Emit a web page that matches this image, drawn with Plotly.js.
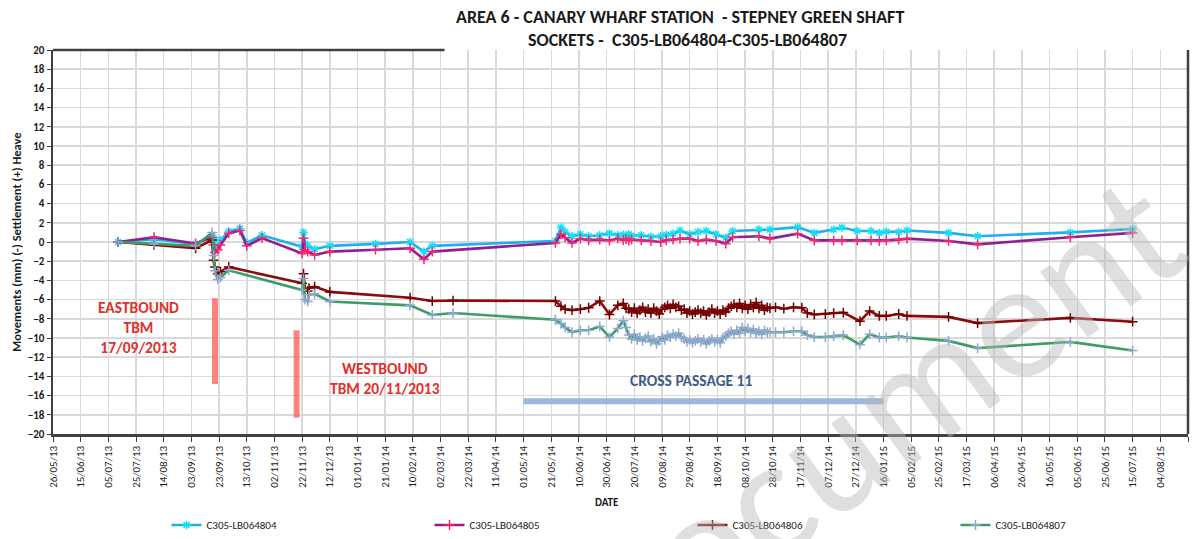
<!DOCTYPE html>
<html>
<head>
<meta charset="utf-8">
<script src="https://cdn.plot.ly/plotly-3.0.1.min.js"></script>
<style>
  body { margin: 0; background: #fff; }
  #chart { width: 1194px; height: 539px; }
</style>
</head>
<body>
<div id="chart"></div>
<script>
// readings for the two upper sockets (804 / 805)
var datesUpper = [
  "2013-07-12", "2013-08-07", "2013-09-06", "2013-09-18", "2013-09-19", "2013-09-20",
  "2013-09-22", "2013-09-24", "2013-09-30", "2013-10-08", "2013-10-13", "2013-10-24",
  "2013-11-22", "2013-11-23", "2013-11-24", "2013-11-26", "2013-12-01", "2013-12-12",
  "2014-01-14", "2014-02-08", "2014-02-18", "2014-02-24", "2014-05-24", "2014-05-28",
  "2014-05-31", "2014-06-05", "2014-06-11", "2014-06-17", "2014-06-25", "2014-07-02",
  "2014-07-08", "2014-07-12", "2014-07-14", "2014-07-16", "2014-07-18", "2014-07-25",
  "2014-08-01", "2014-08-08", "2014-08-12", "2014-08-17", "2014-08-22", "2014-08-29",
  "2014-09-04", "2014-09-10", "2014-09-17", "2014-09-24", "2014-09-29", "2014-10-18",
  "2014-10-26", "2014-11-15", "2014-11-27", "2014-12-11", "2014-12-17", "2014-12-28",
  "2015-01-07", "2015-01-13", "2015-01-18", "2015-01-27", "2015-02-02", "2015-03-04",
  "2015-03-25", "2015-05-31", "2015-07-15"
];
var lb804 = [
  0, 0.3, -0.2, 0.7, 0.1, -0.6,
  -0.4, 0.2, 1.1, 1.4, -0.1, 0.7,
  -0.5, 1.0, -0.2, -0.4, -0.75, -0.4,
  -0.2, 0.0, -1.0, -0.4, 0.1, 1.5,
  1.05, 0.6, 0.8, 0.6, 0.7, 0.9,
  0.7, 0.75, 0.6, 0.8, 0.65, 0.7,
  0.55, 0.6, 0.75, 0.87, 1.2, 0.8,
  1.05, 1.15, 0.8, 0.45, 1.15, 1.3,
  1.3, 1.55, 0.95, 1.3, 1.5, 1.15,
  1.15, 0.95, 1.1, 1.05, 1.2, 0.95,
  0.6, 1.0, 1.35
];
var lb805 = [
  0, 0.5, -0.15, 0.5, -0.3, -1.1,
  -0.8, -0.3, 0.9, 1.2, -0.4, 0.4,
  -1.2, 0.4, -0.8, -1.0, -1.35, -1.0,
  -0.8, -0.65, -1.8, -1.0, -0.1, 0.8,
  0.45, -0.1, 0.35, 0.2, 0.25, 0.15,
  0.35, 0.2, 0.3, 0.15, 0.25, 0.2,
  0.1, 0.0, 0.2, 0.25, 0.35, 0.35,
  0.1, 0.25, 0.1, -0.17, 0.5, 0.6,
  0.35, 0.87, 0.17, 0.17, 0.17, 0.17,
  0.17, 0.1, 0.17, 0.25, 0.35, 0.1,
  -0.25, 0.5, 0.95
];

// readings for the two lower sockets (806 / 807)
var datesLower = [
  "2013-07-12", "2013-08-07", "2013-09-06", "2013-09-18", "2013-09-19", "2013-09-20",
  "2013-09-22", "2013-09-24", "2013-09-30", "2013-11-22", "2013-11-23", "2013-11-24",
  "2013-11-26", "2013-11-27", "2013-12-01", "2013-12-12", "2014-02-08", "2014-02-24",
  "2014-03-11", "2014-05-24", "2014-05-28", "2014-05-31", "2014-06-05", "2014-06-11",
  "2014-06-17", "2014-06-25", "2014-07-02", "2014-07-08", "2014-07-12", "2014-07-14",
  "2014-07-16", "2014-07-18", "2014-07-20", "2014-07-22", "2014-07-24", "2014-07-26",
  "2014-07-28", "2014-07-30", "2014-08-01", "2014-08-03", "2014-08-05", "2014-08-07",
  "2014-08-09", "2014-08-11", "2014-08-13", "2014-08-15", "2014-08-17", "2014-08-19",
  "2014-08-21", "2014-08-23", "2014-08-25", "2014-08-27", "2014-08-29", "2014-08-31",
  "2014-09-02", "2014-09-04", "2014-09-06", "2014-09-08", "2014-09-10", "2014-09-12",
  "2014-09-14", "2014-09-16", "2014-09-18", "2014-09-20", "2014-09-22", "2014-09-24",
  "2014-09-26", "2014-09-28", "2014-09-30", "2014-10-02", "2014-10-04", "2014-10-06",
  "2014-10-08", "2014-10-10", "2014-10-12", "2014-10-14", "2014-10-16", "2014-10-18",
  "2014-10-20", "2014-10-22", "2014-10-24", "2014-10-26", "2014-10-30", "2014-11-05",
  "2014-11-12", "2014-11-18", "2014-11-22", "2014-11-27", "2014-12-05", "2014-12-11",
  "2014-12-18", "2014-12-30", "2015-01-06", "2015-01-13", "2015-01-18", "2015-01-27",
  "2015-02-02", "2015-03-04", "2015-03-25", "2015-05-31", "2015-07-15"
];
var lb806 = [
  0, -0.3, -0.65, 0.2, -1.9, -2.6,
  -3.3, -3.1, -2.6, -4.3, -3.3, -5.0,
  -5.1, -4.8, -4.65, -5.2, -5.8, -6.15,
  -6.1, -6.15, -6.7, -7.0, -7.1, -7.0,
  -6.85, -6.15, -7.55, -6.6, -6.4, -6.9,
  -7.0, -7.3, -6.9, -7.4, -7.1, -6.8,
  -7.3, -7.0, -7.4, -6.9, -7.2, -7.5,
  -7.0, -6.8, -6.6, -6.9, -6.5, -6.8,
  -6.7, -7.1, -7.0, -7.4, -7.2, -7.5,
  -7.3, -7.1, -7.4, -7.2, -7.6, -7.3,
  -7.0, -7.4, -7.2, -7.5, -7.1, -7.3,
  -6.9, -6.7, -6.5, -6.8, -6.4, -6.9,
  -6.6, -7.0, -6.5, -6.8, -6.3, -6.9,
  -6.6, -7.1, -6.8, -6.9, -6.8, -6.95,
  -6.8, -6.85, -7.4, -7.55, -7.5, -7.4,
  -7.35, -8.25, -7.2, -7.7, -7.7, -7.5,
  -7.7, -7.8, -8.45, -7.9, -8.3
];
var lb807 = [
  0, -0.2, -0.4, 1.0, -1.4, -3.0,
  -3.9, -3.7, -2.95, -5.0, -3.8, -6.0,
  -6.2, -5.5, -5.4, -6.2, -6.6, -7.6,
  -7.4, -8.1, -8.5, -8.9, -9.4, -9.2,
  -9.2, -8.8, -9.9, -9.0, -8.2, -8.9,
  -9.7, -10.1, -9.6, -10.2, -9.9, -10.3,
  -10.0, -9.8, -10.4, -10.1, -10.6, -10.3,
  -9.9, -10.2, -9.7, -9.9, -9.6, -9.8,
  -9.5, -9.9, -10.1, -10.4, -10.2, -10.5,
  -10.3, -10.1, -10.4, -10.2, -10.6, -10.3,
  -10.1, -10.4, -10.2, -10.5, -10.0, -9.8,
  -9.5, -9.3, -9.6, -9.2, -9.5, -8.9,
  -9.3, -9.0, -9.4, -9.1, -9.5, -9.3,
  -9.6, -9.2, -9.4, -9.4, -9.4, -9.4,
  -9.3, -9.3, -9.7, -9.9, -9.9, -9.8,
  -9.7, -10.7, -9.6, -9.95, -9.95, -9.8,
  -9.95, -10.3, -11.05, -10.4, -11.3
];

var seriesNames = ["C305-LB064804", "C305-LB064805", "C305-LB064806", "C305-LB064807"];

// TBM drives and cross passage works
var eastDate = "2013-09-20", eastFrom = -5.85, eastTo = -14.8;
var westDate = "2013-11-18", westFrom = -9.2, westTo = -18.3;
var passageStart = "2014-05-01", passageEnd = "2015-01-16", passageLevel = -16.6;

var font = "Carlito, Lato, 'Open Sans', sans-serif";

function makeTrace(name, x, y, lineColor, symbol, markerColor) {
  return {
    type: "scatter",
    mode: "lines+markers",
    name: name,
    x: x,
    y: y,
    line: { color: lineColor, width: 2.6 },
    marker: {
      symbol: symbol,
      size: 7,
      color: markerColor,
      line: { color: markerColor, width: 1.5 }
    }
  };
}

var traces = [
  makeTrace(seriesNames[0], datesUpper, lb804, "#1fb0ec", "asterisk-open", "#10e0f8"),
  makeTrace(seriesNames[1], datesUpper, lb805, "#8e1f8e", "cross-thin-open", "#ff2470"),
  makeTrace(seriesNames[2], datesLower, lb806, "#8a0c0c", "cross-thin-open", "#740000"),
  makeTrace(seriesNames[3], datesLower, lb807, "#3c9e66", "cross-thin-open", "#8ea8d2")
];

var layout = {
  width: 1194,
  height: 539,
  margin: { l: 53, r: 6, t: 50, b: 105, autoexpand: false },
  paper_bgcolor: "#fff",
  plot_bgcolor: "#fff",
  font: { family: font, color: "#1a1a1a" },
  showlegend: true,
  legend: {
    orientation: "h",
    x: 0.1,
    xanchor: "left",
    y: -0.237,
    yanchor: "middle",
    entrywidth: 218,
    entrywidthmode: "pixels",
    font: { size: 11, family: font, color: "#1a1a1a" }
  },
  xaxis: {
    type: "date",
    automargin: false,
    range: ["2013-05-26", "2015-08-24"],
    tick0: "2013-05-26",
    dtick: 20 * 86400000,
    tickformat: "%d/%m/%y",
    tickangle: -90,
    ticks: "outside",
    ticklen: 5,
    tickcolor: "#404040",
    tickfont: { size: 11, family: font, color: "#1a1a1a" },
    showgrid: true,
    gridcolor: "#d9d9d9",
    gridwidth: 1.5,
    showline: true,
    linecolor: "#404040",
    linewidth: 2.5,
    zeroline: false
  },
  yaxis: {
    automargin: false,
    range: [-20, 20],
    dtick: 2,
    ticks: "outside",
    ticklen: 4,
    tickcolor: "#404040",
    tickfont: { size: 11, family: font, color: "#1a1a1a", weight: "bold" },
    showgrid: true,
    gridcolor: "#d9d9d9",
    gridwidth: 1.5,
    showline: true,
    linecolor: "#404040",
    linewidth: 2.5,
    zeroline: false,
    title: {
      text: "Movements (mm) (-) Settlement (+) Heave",
      standoff: 4,
      font: { size: 12.5, family: font, color: "#1a1a1a", weight: "bold" }
    }
  },
  shapes: [
    { type: "line", xref: "paper", yref: "paper", x0: 1, x1: 1, y0: 0, y1: 1,
      line: { color: "#404040", width: 2.5 } },
    { type: "line", xref: "paper", yref: "paper", x0: 0, x1: 0.345, y0: 1, y1: 1,
      line: { color: "#404040", width: 2.5 } },
    { type: "line", xref: "x", yref: "y", x0: eastDate, x1: eastDate, y0: eastFrom, y1: eastTo,
      line: { color: "rgba(255,100,100,0.8)", width: 6 } },
    { type: "line", xref: "x", yref: "y", x0: westDate, x1: westDate, y0: westFrom, y1: westTo,
      line: { color: "rgba(255,100,100,0.8)", width: 6 } },
    { type: "line", xref: "x", yref: "y", x0: passageStart, x1: passageEnd, y0: passageLevel, y1: passageLevel,
      line: { color: "rgba(140,172,216,0.85)", width: 6 } }
  ],
  annotations: [
    { xref: "paper", yref: "paper", x: 0.552, y: 1.086, showarrow: false,
      xanchor: "center", yanchor: "middle",
      text: "<b>AREA 6 - CANARY WHARF STATION  - STEPNEY GREEN SHAFT</b>",
      font: { size: 18, family: font, color: "#1a1a1a" } },
    { xref: "paper", yref: "paper", x: 0.559, y: 1.026, showarrow: false,
      xanchor: "center", yanchor: "middle",
      text: "<b>SOCKETS -  C305-LB064804-C305-LB064807</b>",
      font: { size: 18, family: font, color: "#1a1a1a" } },
    { xref: "x", yref: "y", x: "2013-07-27", y: -8.9, showarrow: false,
      text: "<b>EASTBOUND<br>TBM<br>17/09/2013</b>",
      font: { size: 15.5, family: font, color: "#e0302c" } },
    { xref: "x", yref: "y", x: "2014-01-21", y: -14.2, showarrow: false,
      text: "<b>WESTBOUND<br>TBM 20/11/2013</b>",
      font: { size: 15.5, family: font, color: "#e0302c" } },
    { xref: "x", yref: "y", x: "2014-08-30", y: -14.45, showarrow: false,
      text: "<b>CROSS PASSAGE 11</b>",
      font: { size: 15.5, family: font, color: "#3f5c86" } },
    { xref: "paper", yref: "paper", x: 0.488, y: -0.2, showarrow: false,
      text: "<b>DATE</b>",
      font: { size: 11, family: font, color: "#1a1a1a" } },
    { xref: "paper", yref: "paper", x: 0.72, y: 0.025, showarrow: false,
      xanchor: "center", yanchor: "middle",
      text: "Document", textangle: -36,
      font: { size: 170, family: font, color: "rgba(185,185,185,0.45)" } }
  ]
};

Plotly.newPlot("chart", traces, layout, { staticPlot: true });
</script>
</body>
</html>
